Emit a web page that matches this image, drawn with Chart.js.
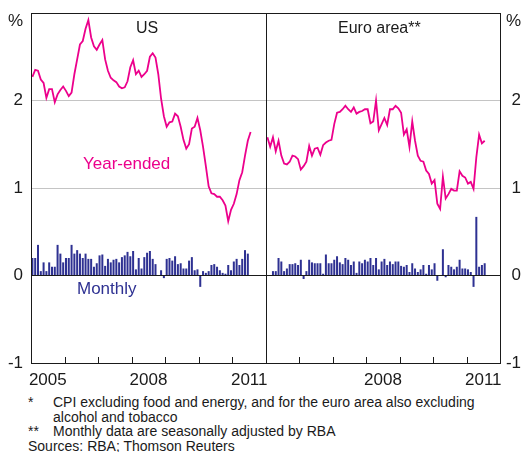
<!DOCTYPE html>
<html>
<head>
<meta charset="utf-8">
<script src="https://cdn.jsdelivr.net/npm/chart.js@4/dist/chart.umd.min.js"></script>
<style>
  body { margin: 0; background: #fff; width: 528px; height: 452px; position: relative; overflow: hidden;
         font-family: "Liberation Sans", Arial, sans-serif; color: #1a1a1a; }
  canvas { position: absolute; top: 0; }
  #chartUS { left: 0; }
  #chartEuro { left: 260px; }
  .lbl { position: absolute; line-height: 1; white-space: nowrap; }
  .panelTitle { font-size: 16px; top: 20px; }
  .notes { position: absolute; left: 28px; top: 395px; font-size: 14px; line-height: 14.5px; }
  .notes div { display: flex; }
  .notes .mark { width: 25px; flex: none; }
</style>
</head>
<body>
<canvas id="chartUS" width="272" height="392"></canvas>
<canvas id="chartEuro" width="261" height="392"></canvas>

<div class="lbl panelTitle" style="left:136px;">US</div>
<div class="lbl panelTitle" style="left:338px;">Euro area**</div>
<div class="lbl" style="left:83px; top:155px; font-size:17px; color:#EC008C;">Year-ended</div>
<div class="lbl" style="left:77px; top:280px; font-size:17px; color:#2E3192;">Monthly</div>

<div class="notes">
  <div><span class="mark">*</span><span>CPI excluding food and energy, and for the euro area also excluding<br>alcohol and tobacco</span></div>
  <div><span class="mark">**</span><span>Monthly data are seasonally adjusted by RBA</span></div>
  <div><span>Sources: RBA; Thomson Reuters</span></div>
</div>

<script>
// años del eje x (cada panel va de ene-2005 a dic-2011)
const yearLabels = ['2005', '2006', '2007', '2008', '2009', '2010', '2011'];
const shownYearsUS = ['2005', '2008', '2011'];
const shownYearsEuro = ['2008', '2011'];

// US - variación anual (%), mensual desde ene-2005
const usYearEnded = [2.27, 2.35, 2.34, 2.24, 2.20, 2.03, 2.13, 2.13, 1.98, 2.07, 2.12, 2.16,
    2.11, 2.05, 2.09, 2.30, 2.47, 2.64, 2.68, 2.82, 2.92, 2.72, 2.62, 2.58,
    2.64, 2.69, 2.47, 2.34, 2.26, 2.23, 2.21, 2.16, 2.14, 2.15, 2.22, 2.38,
    2.46, 2.30, 2.34, 2.27, 2.30, 2.34, 2.50, 2.54, 2.49, 2.30, 2.02, 1.82,
    1.70, 1.75, 1.76, 1.85, 1.82, 1.70, 1.55, 1.45, 1.50, 1.68, 1.70, 1.80,
    1.66, 1.47, 1.25, 1.02, 0.94, 0.93, 0.90, 0.90, 0.86, 0.80, 0.62, 0.75,
    0.82, 0.93, 1.09, 1.18, 1.37, 1.54, 1.64];

// US - variación mensual (%)
const usMonthly = [0.20, 0.20, 0.35, 0.05, 0.15, 0.05, 0.15, 0.10, 0.10, 0.35, 0.25, 0.15,
    0.20, 0.20, 0.35, 0.25, 0.29, 0.25, 0.20, 0.25, 0.19, 0.19, 0.10, 0.14,
    0.23, 0.24, 0.11, 0.19, 0.15, 0.18, 0.19, 0.15, 0.21, 0.23, 0.27, 0.22,
    0.28, 0.07, 0.20, 0.08, 0.21, 0.26, 0.28, 0.19, 0.13, 0.00, 0.06, -0.03,
    0.19, 0.20, 0.17, 0.22, 0.13, 0.14, 0.08, 0.08, 0.17, 0.21, 0.06, 0.07,
    -0.13, 0.05, 0.03, 0.05, 0.12, 0.13, 0.10, 0.06, 0.03, 0.02, 0.12, 0.06,
    0.16, 0.19, 0.12, 0.19, 0.29, 0.25, null];

// Zona euro - variación anual (%)
const euroYearEnded = [1.58, 1.47, 1.58, 1.42, 1.54, 1.37, 1.28, 1.27, 1.30, 1.37, 1.36, 1.33,
    1.21, 1.25, 1.30, 1.48, 1.37, 1.45, 1.46, 1.38, 1.49, 1.52, 1.54, 1.55,
    1.73, 1.86, 1.87, 1.90, 1.94, 1.90, 1.87, 1.92, 1.85, 1.87, 1.88, 1.90,
    1.90, 1.74, 1.76, 2.00, 1.66, 1.73, 1.80, 1.72, 1.90, 1.90, 1.94, 1.91,
    1.86, 1.61, 1.67, 1.47, 1.76, 1.54, 1.37, 1.31, 1.30, 1.20, 1.16, 1.05,
    1.09, 0.82, 0.76, 1.13, 0.88, 0.93, 0.99, 0.97, 0.97, 1.19, 1.14, 1.12,
    1.05, 1.07, 0.99, 1.35, 1.61, 1.51, 1.54];

// Zona euro - variación mensual (%)
const euroMonthly = [0.00, 0.00, 0.05, 0.05, 0.20, 0.16, 0.05, 0.08, 0.13, 0.13, 0.14, 0.12,
    0.18, -0.04, 0.05, 0.18, 0.15, 0.14, 0.14, 0.14, 0.02, 0.24, 0.14, 0.14,
    0.18, 0.22, 0.15, 0.13, 0.20, 0.18, 0.12, 0.16, 0.03, 0.16, 0.14, 0.18,
    0.16, 0.20, 0.12, 0.20, 0.07, 0.16, 0.19, 0.12, 0.16, 0.13, 0.16, 0.16,
    0.11, 0.10, 0.12, 0.04, 0.14, 0.08, 0.04, 0.07, 0.12, 0.02, 0.12, 0.07,
    0.14, -0.06, 0.00, 0.30, -0.02, 0.12, 0.10, 0.07, 0.10, 0.18, 0.08, 0.08,
    0.07, 0.04, -0.13, 0.67, 0.10, 0.12, 0.14];

const colorLinea = '#EC008C';
const colorBarras = '#2E3192';

Chart.defaults.font.family = '"Liberation Sans", Arial, sans-serif';
Chart.defaults.font.size = 17;
Chart.defaults.color = '#1a1a1a';

// marco del panel y marcas de los años en el borde inferior
const marcoPanel = {
    id: 'marcoPanel',
    afterDraw(chart) {
        const ctx = chart.ctx;
        const a = chart.chartArea;
        const x = chart.scales.x;
        ctx.save();
        ctx.strokeStyle = '#1a1a1a';
        ctx.lineWidth = 1;
        ctx.strokeRect(a.left + 0.5, a.top + 0.5, a.right - a.left, a.bottom - a.top);
        for (let k = 1; k < yearLabels.length; k++) {
            const px = Math.round(x.getPixelForValue(k * 12)) + 0.5;
            ctx.beginPath();
            ctx.moveTo(px, a.bottom + 0.5);
            ctx.lineTo(px, a.bottom - 6);
            ctx.stroke();
        }
        ctx.restore();
    }
};

function puntos(valores) {
    return valores.map((v, i) => ({ x: i + 0.5, y: v }));
}

function dibujarPanel(idCanvas, anual, mensual, lado, aniosVisibles) {
    const esIzq = lado === 'left';
    new Chart(document.getElementById(idCanvas), {
        type: 'bar',
        data: {
            datasets: [{
                type: 'line',
                data: puntos(anual),
                borderColor: colorLinea,
                borderWidth: 1.8,
                pointRadius: 0,
                tension: 0,
                order: 0
            }, {
                type: 'bar',
                data: puntos(mensual),
                backgroundColor: colorBarras,
                categoryPercentage: 0.8,
                barPercentage: 0.9,
                order: 1
            }]
        },
        options: {
            responsive: false,
            animation: false,
            devicePixelRatio: 1,
            layout: {
                padding: esIzq ? { top: 13, left: 0, right: 6, bottom: 0 }
                               : { top: 13, left: 6, right: 0, bottom: 0 }
            },
            plugins: {
                legend: { display: false },
                tooltip: { enabled: false }
            },
            scales: {
                x: {
                    type: 'linear',
                    offset: false,
                    min: 0,
                    max: yearLabels.length * 12,
                    grid: { display: false, offset: false },
                    border: { display: false },
                    afterBuildTicks: function (s) {
                        s.ticks = aniosVisibles.map(a => ({ value: yearLabels.indexOf(a) * 12 + 6 }));
                    },
                    ticks: {
                        padding: 1,
                        maxRotation: 0,
                        autoSkip: false,
                        font: { lineHeight: 1 },
                        callback: function (v) {
                            return yearLabels[(v - 6) / 12];
                        }
                    },
                    afterFit: function (s) {
                        s.height = 29;
                        s.paddingLeft = 0;
                        s.paddingRight = 0;
                    }
                },
                y: {
                    position: lado,
                    min: -1,
                    max: 3,
                    border: { display: false },
                    grid: {
                        drawTicks: false,
                        color: function (c) {
                            if (c.tick.value === 0) return '#1a1a1a';
                            if (c.tick.value === 1 || c.tick.value === 2) return '#C4C4C4';
                            return 'rgba(0,0,0,0)';
                        }
                    },
                    ticks: {
                        stepSize: 1,
                        padding: 8,
                        crossAlign: esIzq ? 'near' : 'far',
                        font: { lineHeight: 1 },
                        callback: function (v) {
                            return v === 3 ? ['', '%'] : String(v);
                        }
                    },
                    afterFit: function (s) {
                        s.width = esIzq ? 31 : 21;
                        s.paddingTop = 0;
                        s.paddingBottom = 0;
                    }
                }
            }
        },
        plugins: [marcoPanel]
    });
}

dibujarPanel('chartUS', usYearEnded, usMonthly, 'left', shownYearsUS);
dibujarPanel('chartEuro', euroYearEnded, euroMonthly, 'right', shownYearsEuro);
</script>
</body>
</html>
